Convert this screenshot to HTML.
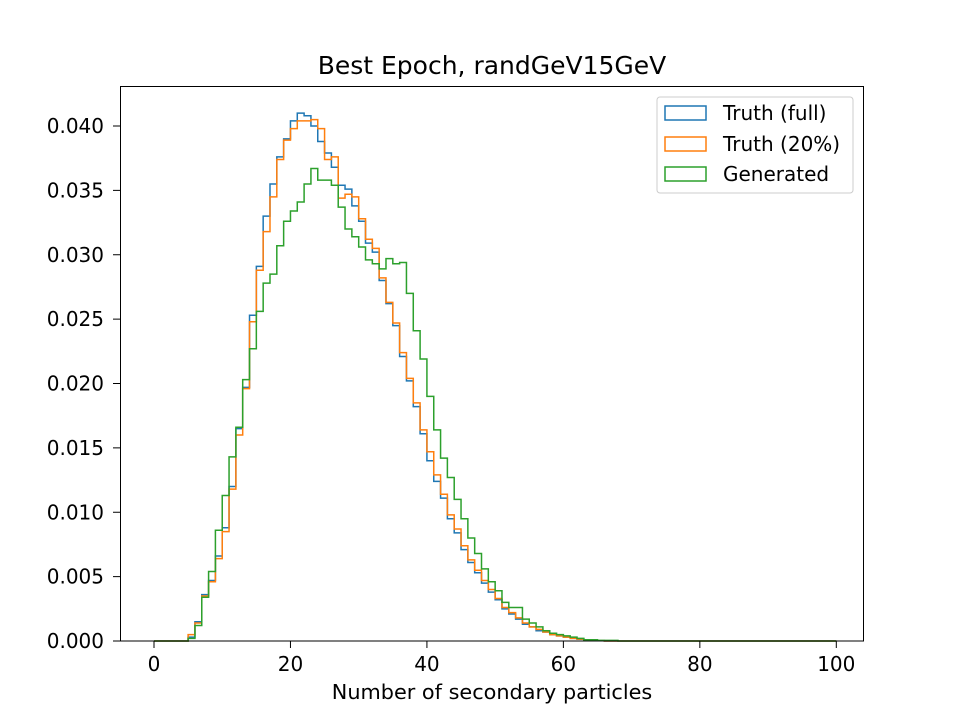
<!DOCTYPE html>
<html><head><meta charset="utf-8"><style>
body{margin:0;background:#fff}
svg text{font-family:"DejaVu Sans","Liberation Sans",sans-serif;fill:#000}
</style></head><body>
<svg id="chart" width="960" height="720" xmlns="http://www.w3.org/2000/svg">
<text x="492" y="74" style="font-size:25px" text-anchor="middle">Best Epoch, randGeV15GeV</text>
<g id="series"></g>
<rect x="120.5" y="86.5" width="743" height="554.5" fill="none" stroke="#000" stroke-width="1"/>
<g id="xticks"></g><g id="yticks"></g>
<text x="492" y="699" style="font-size:20.8px" text-anchor="middle">Number of secondary particles</text>
<g>
<rect x="657" y="97" width="196" height="96" rx="3" fill="#fff" fill-opacity="0.8" stroke="#ccc"/>
<rect x="665" y="106" width="41" height="14" fill="none" stroke="#1f77b4" stroke-width="1.5"/>
<text x="723" y="120" style="font-size:20px">Truth (full)</text>
<rect x="665" y="137" width="41" height="14" fill="none" stroke="#ff7f0e" stroke-width="1.5"/>
<text x="723" y="151" style="font-size:20px">Truth (20%)</text>
<rect x="665" y="167" width="41" height="14" fill="none" stroke="#2ca02c" stroke-width="1.5"/>
<text x="723" y="181" style="font-size:20px">Generated</text>
</g>
</svg>
<script>
const binStart = 5;
const truthFull = [0.0003,0.0015,0.0036,0.0047,0.0066,0.0088,0.012,0.0165,0.0197,0.0253,0.0291,0.033,0.0355,0.0376,0.039,0.0404,0.041,0.0408,0.04,0.0388,0.0379,0.0368,0.0354,0.0351,0.0338,0.0326,0.0309,0.0302,0.028,0.0262,0.0245,0.0221,0.0202,0.0182,0.0161,0.014,0.0124,0.0111,0.0095,0.0084,0.0071,0.0061,0.0053,0.0045,0.0038,0.0032,0.0025,0.0021,0.0017,0.0013,0.0011,0.0008,0.0007,0.0005,0.0004,0.0003,0.0002,0.00015,0.0001,0.00005,0.00003];
const truth20 = [0.0005,0.0014,0.0035,0.0046,0.0064,0.0085,0.0118,0.016,0.0196,0.0248,0.0288,0.0318,0.0345,0.0374,0.0389,0.0398,0.0404,0.0404,0.0405,0.0398,0.0374,0.0376,0.0344,0.0347,0.0345,0.0328,0.0312,0.0305,0.0282,0.0263,0.0247,0.0224,0.0204,0.0185,0.0164,0.0147,0.0129,0.0114,0.0098,0.0087,0.0074,0.0063,0.0055,0.0047,0.004,0.0033,0.0026,0.0022,0.0018,0.0014,0.0011,0.0009,0.0007,0.0005,0.0004,0.0003,0.0002,0.00015,0.0001,0.00005,0.00003];
const generated = [0.0002,0.0012,0.0034,0.0054,0.0086,0.0113,0.0143,0.0166,0.0203,0.0227,0.0256,0.0278,0.0285,0.0307,0.0326,0.0334,0.0341,0.0355,0.0367,0.0358,0.0358,0.0354,0.0337,0.032,0.0314,0.0306,0.0296,0.0293,0.0289,0.0297,0.0293,0.0294,0.027,0.0241,0.0219,0.019,0.0164,0.0142,0.0127,0.011,0.0095,0.008,0.0068,0.0056,0.0046,0.0039,0.003,0.0026,0.0026,0.0017,0.0014,0.0011,0.0008,0.0006,0.0005,0.0004,0.0003,0.0002,0.0001,0.0001,0.00005,0.00005,0.00005];
const xTicks = [0,20,40,60,80,100];
const yTicks = [0,0.005,0.010,0.015,0.020,0.025,0.030,0.035,0.040];
const NS = "http://www.w3.org/2000/svg";
const X = v => 154 + v * 6.823;
const Y = v => 641 - v * 12875;
function stepPath(vals){
  let d = `M${X(0)},${Y(0)} L${X(binStart)},${Y(0)}`;
  vals.forEach((v,i)=>{ d += ` L${X(binStart+i)},${Y(v)} L${X(binStart+i+1)},${Y(v)}`; });
  d += ` L${X(binStart+vals.length)},${Y(0)} L${X(100)},${Y(0)}`;
  return d;
}
const g = document.getElementById('series');
[[truthFull,'#1f77b4','series-truth-full'],[truth20,'#ff7f0e','series-truth-20'],[generated,'#2ca02c','series-generated']].forEach(([vals,c,n])=>{
  const p = document.createElementNS(NS,'path');
  p.setAttribute('d', stepPath(vals));
  p.setAttribute('fill','none'); p.setAttribute('stroke',c); p.setAttribute('stroke-width','1.5');
  
  
  g.appendChild(p);
});
const xg = document.getElementById('xticks');
xTicks.forEach(t=>{
  const l = document.createElementNS(NS,'line');
  l.setAttribute('x1',X(t)); l.setAttribute('x2',X(t)); l.setAttribute('y1',641); l.setAttribute('y2',648);
  l.setAttribute('stroke','#000');
  
  
  xg.appendChild(l);
  const tx = document.createElementNS(NS,'text');
  tx.setAttribute('x',X(t)); tx.setAttribute('y',671); tx.setAttribute('style','font-size:20px'); tx.setAttribute('text-anchor','middle');
  tx.textContent = t;
  
  
  xg.appendChild(tx);
});
const yg = document.getElementById('yticks');
yTicks.forEach(t=>{
  const l = document.createElementNS(NS,'line');
  l.setAttribute('x1',113); l.setAttribute('x2',120); l.setAttribute('y1',Y(t)); l.setAttribute('y2',Y(t));
  l.setAttribute('stroke','#000');
  
  
  yg.appendChild(l);
  const tx = document.createElementNS(NS,'text');
  tx.setAttribute('x',104); tx.setAttribute('y',Y(t)+7); tx.setAttribute('style','font-size:20px'); tx.setAttribute('text-anchor','end');
  tx.textContent = t.toFixed(3);
  
  
  yg.appendChild(tx);
});
</script>
</body></html>
